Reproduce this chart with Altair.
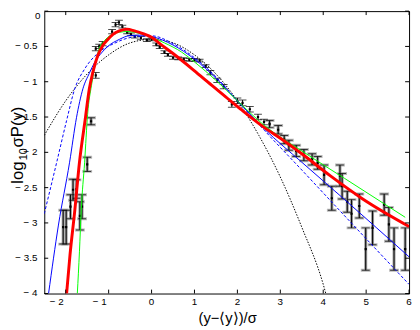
import altair as alt
import pandas as pd

# ---- data points (x, log10 sigma P, error) ----
pt_x = [-2.06, -1.99, -1.89, -1.83, -1.75, -1.67, -1.62, -1.50, -1.41,
        -1.30, -1.30, -1.22, -1.14, -0.92, -0.84, -0.76, -0.68, -0.57, -0.48,
        -0.39, -0.25, -0.11, 0.00, 0.11, 0.19, 0.30, 0.38, 0.50, 0.62, 0.75,
        0.88, 1.00, 1.12, 1.26, 1.37, 1.53, 1.68, 1.87, 2.00, 2.12, 2.29,
        2.48, 2.62, 2.75, 2.95, 3.09, 3.20, 3.37, 3.55, 3.74, 3.87, 4.02,
        4.20, 4.39, 4.44, 4.56, 4.66, 4.84, 4.99, 5.15, 5.42, 5.53, 5.65, 5.91]
pt_y = [-3.06, -3.06, -2.77, -2.53, -2.52, -2.90, -2.77, -2.17, -1.56,
        -0.91, -0.53, -0.50, -0.46, -0.29, -0.19, -0.16, -0.22, -0.30, -0.33,
        -0.36, -0.38, -0.41, -0.40, -0.47, -0.51, -0.58, -0.62, -0.66, -0.67, -0.68,
        -0.69, -0.69, -0.70, -0.78, -0.87, -0.98, -1.07, -1.32, -1.27, -1.30, -1.39,
        -1.50, -1.57, -1.60, -1.68, -1.82, -1.90, -1.98, -2.04, -2.10, -2.15, -2.32,
        -2.65, -2.33, -2.48, -2.70, -2.87, -2.76, -3.37, -3.07, -2.74, -3.02, -3.37, -3.37]
pt_err = [0.24, 0.24, 0.17, 0.15, 0.13, 0.20, 0.17, 0.10, 0.05,
          0.04, 0.03, 0.03, 0.03, 0.03, 0.03, 0.03, 0.02, 0.02, 0.02,
          0.02, 0.02, 0.02, 0.02, 0.02, 0.02, 0.02, 0.02, 0.02, 0.02, 0.02,
          0.02, 0.02, 0.02, 0.02, 0.03, 0.03, 0.03, 0.04, 0.04, 0.04, 0.04,
          0.04, 0.04, 0.05, 0.06, 0.06, 0.07, 0.08, 0.08, 0.08, 0.09, 0.14,
          0.17, 0.15, 0.18, 0.15, 0.20, 0.17, 0.30, 0.24, 0.15, 0.24, 0.30, 0.30]

# ---- fitted curves ----
red_x = [-1.98, -1.90, -1.79, -1.68, -1.55, -1.45, -1.37, -1.26, -1.15, -1.03,
         -0.90, -0.75, -0.57, -0.40, -0.20, 0.00, 0.19, 0.50, 0.95, 1.30, 1.72,
         2.10, 2.63, 3.00, 3.50, 4.16, 4.92, 6.00]
red_y = [-4.00, -3.45, -2.83, -2.14, -1.55, -1.10, -0.87, -0.64, -0.50, -0.41,
         -0.33, -0.28, -0.255, -0.28, -0.32, -0.37, -0.46, -0.60, -0.82, -1.00, -1.21,
         -1.40, -1.65, -1.80, -2.02, -2.33, -2.66, -3.05]

green_x = [-1.73, -1.68, -1.64, -1.56, -1.49, -1.40, -1.30, -1.22, -1.10, -0.95,
           -0.75, -0.57, -0.40, -0.20, 0.00, 0.30, 0.70, 1.00, 1.50, 2.00, 2.63,
           3.50, 4.50, 5.91]
green_y = [-4.00, -3.40, -2.83, -2.14, -1.46, -1.05, -0.72, -0.53, -0.42, -0.34,
           -0.30, -0.29, -0.30, -0.33, -0.37, -0.45, -0.58, -0.72, -0.98, -1.27, -1.62,
           -1.98, -2.37, -2.92]

blue1_x = [-2.40, -2.17, -1.91, -1.75, -1.60, -1.45, -1.33, -1.15, -1.03, -0.75,
           -0.50, -0.25, 0.00, 0.50, 1.00, 1.50, 2.00, 2.63, 3.50, 4.50, 6.00]
blue1_y = [-4.00, -3.03, -2.14, -1.51, -1.10, -0.88, -0.73, -0.58, -0.505, -0.40,
           -0.345, -0.34, -0.36, -0.48, -0.68, -0.95, -1.27, -1.67, -2.14, -2.67, -3.48]

blue2_x = [-2.50, -2.21, -1.98, -1.79, -1.56, -1.26, -0.88, -0.46, 0.00, 0.50,
           1.00, 1.50, 2.00, 2.63, 3.50, 4.50, 6.00]
blue2_y = [-2.87, -2.14, -1.55, -1.10, -0.82, -0.60, -0.46, -0.37, -0.35, -0.46,
           -0.66, -0.93, -1.27, -1.69, -2.25, -2.90, -3.87]

gauss_x = [-2.50, -2.00, -1.50, -1.00, -0.50, 0.00, 0.50, 1.00, 1.50, 2.00,
           2.50, 3.00, 3.50, 4.00, 4.06]
gauss_y = [-1.76, -1.27, -0.89, -0.62, -0.45, -0.40, -0.45, -0.62, -0.89, -1.27,
           -1.76, -2.35, -3.06, -3.87, -4.00]

# ---- axes ----
x_ticks = [-2, -1, 0, 1, 2, 3, 4, 5, 6]
x_labels = ["\u2212 2", "\u2212 1", "0", "1", "2", "3", "4", "5", "6"]
y_ticks = [0, -0.5, -1, -1.5, -2, -2.5, -3, -3.5, -4]
y_labels = ["0", "\u2212 0.5", "\u2212 1", "\u2212 1.5", "\u2212 2", "\u2212 2.5",
            "\u2212 3", "\u2212 3.5", "\u2212 4"]

W, H = 372, 288
FONT = "Liberation Sans"
xs = alt.Scale(domain=[-2.5, 6], nice=False, zero=False)
ys = alt.Scale(domain=[-4, 0], nice=False, zero=False)

pts = pd.DataFrame({"x": pt_x, "y": pt_y, "err": pt_err})
pts["lo"] = pts["y"] - pts["err"]
pts["hi"] = pts["y"] + pts["err"]
big = pts[pts["err"] >= 0.045]

X = alt.X("x:Q", scale=xs, axis=None)
Y = alt.Y("y:Q", scale=ys, axis=None)
YLO = alt.Y("lo:Q", scale=ys, axis=None)
YHI = alt.Y("hi:Q", scale=ys, axis=None)

gb = alt.Chart(big)
gray_bar = gb.mark_rule(color="#9a9a9a", strokeWidth=3, clip=True).encode(x=X, y=YLO, y2="hi:Q")
gray_lo = gb.mark_tick(orient="horizontal", size=10, thickness=3, color="#9a9a9a", clip=True).encode(x=X, y=YLO)
gray_hi = gb.mark_tick(orient="horizontal", size=10, thickness=3, color="#9a9a9a", clip=True).encode(x=X, y=YHI)

base = alt.Chart(pts)
blk_bar = base.mark_rule(color="black", strokeWidth=1, clip=True).encode(x=X, y=YLO, y2="hi:Q")
blk_lo = base.mark_tick(orient="horizontal", size=8, thickness=1, color="black", clip=True).encode(x=X, y=YLO)
blk_hi = base.mark_tick(orient="horizontal", size=8, thickness=1, color="black", clip=True).encode(x=X, y=YHI)
dots = base.mark_square(size=5, color="black", opacity=1, clip=True).encode(x=X, y=Y)


def curve(xv, yv, color, width, dash=None):
    kw = dict(color=color, strokeWidth=width, clip=True, interpolate="monotone")
    if dash is not None:
        kw["strokeDash"] = dash
    return alt.Chart(pd.DataFrame({"x": xv, "y": yv})).mark_line(**kw).encode(x=X, y=Y)


gauss = curve(gauss_x, gauss_y, "black", 1, [1.5, 1.5])
blue2 = curve(blue2_x, blue2_y, "#0000ff", 1, [3, 2])
blue1 = curve(blue1_x, blue1_y, "#0000ff", 1)
green = curve(green_x, green_y, "#00ff00", 1)
red = curve(red_x, red_y, "#ff0000", 3)

xt = pd.DataFrame({"x": x_ticks, "lab": x_labels})
yt = pd.DataFrame({"y": y_ticks, "lab": y_labels})

tick_b = alt.Chart(xt).mark_rule(color="black").encode(x=X, y=alt.value(H), y2=alt.value(H - 4))
tick_t = alt.Chart(xt).mark_rule(color="black").encode(x=X, y=alt.value(0), y2=alt.value(4))
tick_l = alt.Chart(yt).mark_rule(color="black").encode(y=Y, x=alt.value(0), x2=alt.value(4))
tick_r = alt.Chart(yt).mark_rule(color="black").encode(y=Y, x=alt.value(W), x2=alt.value(W - 4))

xlab_neg = alt.Chart(xt[xt["x"] < 0]).mark_text(
    font=FONT, fontSize=10, align="right", baseline="middle", dx=-2).encode(
    x=X, y=alt.value(H + 9), text="lab:N")
xlab_pos = alt.Chart(xt[xt["x"] >= 0]).mark_text(
    font=FONT, fontSize=10, align="center", baseline="middle").encode(
    x=X, y=alt.value(H + 9), text="lab:N")
ylab = alt.Chart(yt[yt["y"] < 0]).mark_text(
    font=FONT, fontSize=10, align="right", baseline="middle").encode(
    y=Y, x=alt.value(-7), text="lab:N")
ylab0 = alt.Chart(yt[yt["y"] == 0]).mark_text(
    font=FONT, fontSize=10, align="right", baseline="top").encode(
    y=Y, x=alt.value(-4), text="lab:N")

one = pd.DataFrame({"t": [0]})
xtitle = alt.Chart(one).mark_text(
    text="(y\u2212\u27e8y\u27e9)/\u03c3", font=FONT, fontSize=15, align="center", baseline="middle").encode(
    x=alt.value(187), y=alt.value(H + 25))
# y title in pieces: "log", subscript "10", "σP(y)" (rotated, reading upward)
yt_log = alt.Chart(one).mark_text(
    text="log", font=FONT, fontSize=17, align="left", baseline="alphabetic", angle=270).encode(
    x=alt.value(-22), y=alt.value(176))
yt_sub = alt.Chart(one).mark_text(
    text="10", font=FONT, fontSize=11, align="left", baseline="alphabetic", angle=270).encode(
    x=alt.value(-18), y=alt.value(152))
yt_rest = alt.Chart(one).mark_text(
    text="\u03c3P(y)", font=FONT, fontSize=17, align="left", baseline="alphabetic", angle=270).encode(
    x=alt.value(-22), y=alt.value(139))

chart = alt.layer(
    gauss, gray_bar, gray_lo, gray_hi, blk_bar, blk_lo, blk_hi, dots,
    blue2, blue1, green, red,
    tick_b, tick_t, tick_l, tick_r, xlab_neg, xlab_pos, ylab, ylab0, xtitle,
    yt_log, yt_sub, yt_rest,
).properties(
    width=W, height=H,
    autosize=alt.AutoSizeParams(type="none"),
    padding={"left": 37, "top": 0, "right": 3, "bottom": 34},
).configure_view(stroke="black", strokeWidth=1)

chart.save("out.html", embed_options={"renderer": "svg", "actions": False})
